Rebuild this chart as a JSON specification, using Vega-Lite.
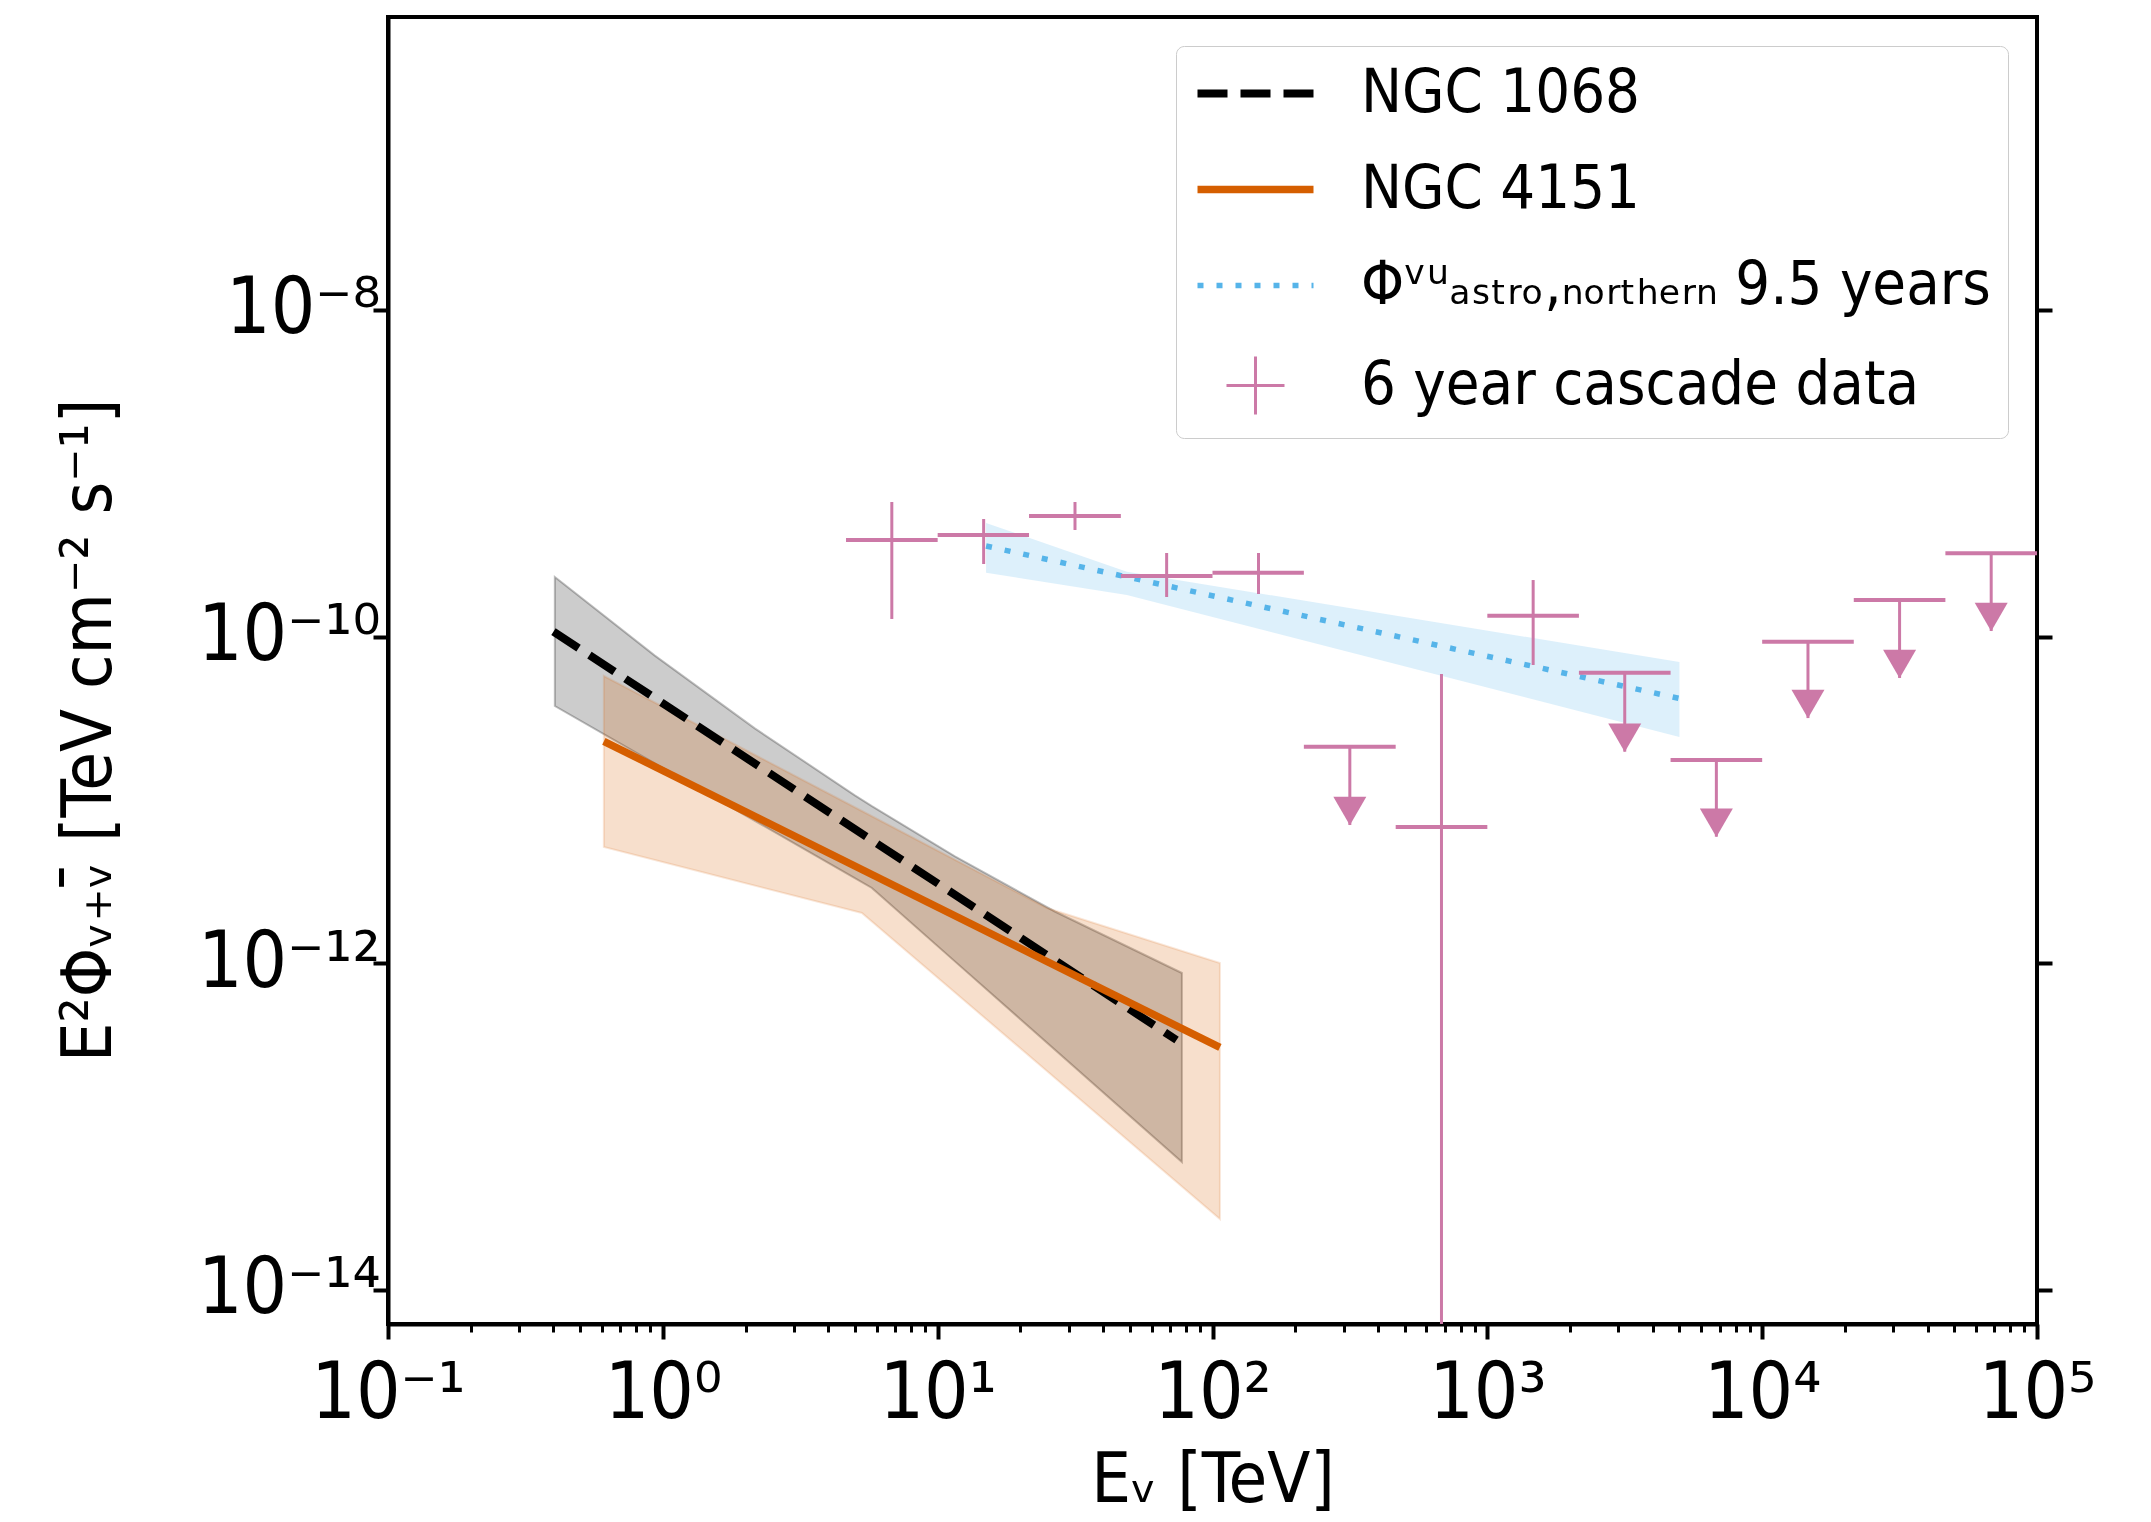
{
  "$schema": "https://vega.github.io/schema/vega-lite/v6.json",
  "width": 1649,
  "height": 1307,
  "autosize": {"type": "none"},
  "padding": {"left": 388, "top": 17, "right": 114, "bottom": 198},
  "background": "white",
  "config": {
    "font": "DejaVu Sans Condensed, DejaVu Sans",
    "view": {"stroke": "black", "strokeWidth": 4},
    "axis": {
      "domainColor": "black", "domainWidth": 4, "tickColor": "black", "tickWidth": 4,
      "labelFont": "DejaVu Sans Condensed, DejaVu Sans", "titleFont": "DejaVu Sans Condensed, DejaVu Sans",
      "labelColor": "black", "titleColor": "black", "grid": false, "titleFontWeight": "normal",
      "labelFontSize": 78, "titleFontSize": 70, "labelOverlap": false, "labelFlush": false, "labelLimit": 500, "titleLimit": 2000
    }
  },
  "datasets": {
    "cascade": [
      {"series": "6 year cascade data", "E": 6.81, "Elo": 4.64, "Ehi": 10.0, "F": 3.905e-10, "Flo": 1.282e-10, "Fhi": 6.673e-10, "limit": false},
      {"series": "6 year cascade data", "E": 14.7, "Elo": 10.0, "Ehi": 21.5, "F": 4.19e-10, "Flo": 2.783e-10, "Fhi": 5.25e-10, "limit": false},
      {"series": "6 year cascade data", "E": 31.6, "Elo": 21.5, "Ehi": 46.4, "F": 5.475e-10, "Flo": 4.496e-10, "Fhi": 6.673e-10, "limit": false},
      {"series": "6 year cascade data", "E": 68.1, "Elo": 46.4, "Ehi": 100, "F": 2.35e-10, "Flo": 1.748e-10, "Fhi": 3.25e-10, "limit": false},
      {"series": "6 year cascade data", "E": 147, "Elo": 100, "Ehi": 215, "F": 2.462e-10, "Flo": 1.823e-10, "Fhi": 3.25e-10, "limit": false},
      {"series": "6 year cascade data", "E": 316, "Elo": 215, "Ehi": 464, "F": 2.118e-11, "Flo": 7.02e-12, "Fhi": 2.118e-11, "limit": true},
      {"series": "6 year cascade data", "E": 681, "Elo": 464, "Ehi": 1000, "F": 6.83e-12, "Flo": 1e-16, "Fhi": 5.9e-11, "limit": false},
      {"series": "6 year cascade data", "E": 1468, "Elo": 1000, "Ehi": 2154, "F": 1.343e-10, "Flo": 6.7e-11, "Fhi": 2.22e-10, "limit": false},
      {"series": "6 year cascade data", "E": 3162, "Elo": 2154, "Ehi": 4642, "F": 6.01e-11, "Flo": 1.973e-11, "Fhi": 6.01e-11, "limit": true},
      {"series": "6 year cascade data", "E": 6813, "Elo": 4642, "Ehi": 10000, "F": 1.755e-11, "Flo": 5.95e-12, "Fhi": 1.755e-11, "limit": true},
      {"series": "6 year cascade data", "E": 14678, "Elo": 10000, "Ehi": 21544, "F": 9.31e-11, "Flo": 3.17e-11, "Fhi": 9.31e-11, "limit": true},
      {"series": "6 year cascade data", "E": 31623, "Elo": 21544, "Ehi": 46416, "F": 1.675e-10, "Flo": 5.58e-11, "Fhi": 1.675e-10, "limit": true},
      {"series": "6 year cascade data", "E": 68129, "Elo": 46416, "Ehi": 100000, "F": 3.237e-10, "Flo": 1.082e-10, "Fhi": 3.237e-10, "limit": true}
    ],
    "astroBand": [
      {"E": 15, "hi": 4.962e-10, "lo": 2.462e-10},
      {"E": 48.8, "hi": 2.496e-10, "lo": 1.798e-10},
      {"E": 5000, "hi": 6.99e-11, "lo": 2.428e-11}
    ],
    "ngc1068Band": [
      {"E": 0.4046, "hi": 2.317e-10, "lo": 3.758e-11},
      {"E": 0.9352, "hi": 7.65e-11, "lo": 1.673e-11},
      {"E": 2.161, "hi": 2.74e-11, "lo": 7.45e-12},
      {"E": 4.996, "hi": 1.067e-11, "lo": 3.316e-12},
      {"E": 5.762, "hi": 9.16e-12, "lo": 2.887e-12},
      {"E": 11.55, "hi": 4.514e-12, "lo": 1.026e-12},
      {"E": 26.7, "hi": 2.073e-12, "lo": 2.949e-13},
      {"E": 77.38, "hi": 8.71e-13, "lo": 6.06e-14}
    ],
    "ngc4151Band": [
      {"E": 0.61, "hi": 5.737e-11, "lo": 5.147e-12},
      {"E": 1.363, "hi": 2.835e-11, "lo": 3.639e-12},
      {"E": 5.299, "hi": 8.55e-12, "lo": 2.03e-12},
      {"E": 24.97, "hi": 2.178e-12, "lo": 2.187e-13},
      {"E": 106.4, "hi": 1.003e-12, "lo": 2.714e-14}
    ],
    "lines": [
      {"series": "NGC 1068", "E": 0.40, "F": 1.073e-10},
      {"series": "NGC 1068", "E": 74.0, "F": 3.386e-13},
      {"series": "NGC 4151", "E": 0.61, "F": 2.285e-11},
      {"series": "NGC 4151", "E": 106.4, "F": 3.047e-13},
      {"series": "Φᵛᵘₐₛₜᵣₒ,ₙₒᵣₜₕₑᵣₙ 9.5 years", "E": 15, "F": 3.588e-10},
      {"series": "Φᵛᵘₐₛₜᵣₒ,ₙₒᵣₜₕₑᵣₙ 9.5 years", "E": 5000, "F": 4.177e-11}
    ]
  },
  "resolve": {"axis": {"x": "independent", "y": "independent"}},
  "layer": [
    {
      "data": {"name": "astroBand"},
      "mark": {"type": "area", "color": "#56b4e9", "opacity": 0.2},
      "encoding": {
        "x": {"field": "E", "type": "quantitative", "scale": {"type": "log", "domain": [0.1, 100000], "nice": false},
          "axis": {"orient": "bottom", "values": [0.1, 1, 10, 100, 1000, 10000, 100000],
            "labelExpr": "datum.value < 0.5 ? '10⁻¹' : datum.value < 5 ? '10⁰' : datum.value < 50 ? '10¹' : datum.value < 500 ? '10²' : datum.value < 5000 ? '10³' : datum.value < 50000 ? '10⁴' : '10⁵'",
            "tickSize": 15, "labelPadding": 78, "labelBaseline": "alphabetic",
            "title": "Eᵥ [TeV]", "titleY": 177, "titleBaseline": "alphabetic"}},
        "y": {"field": "hi", "type": "quantitative", "scale": {"type": "log", "domain": [6.174e-15, 6.225e-7], "nice": false},
          "axis": {"orient": "left", "values": [1e-8, 1e-10, 1e-12, 1e-14],
            "labelExpr": "datum.value > 1e-9 ? '10⁻⁸' : datum.value > 1e-11 ? '10⁻¹⁰' : datum.value > 1e-13 ? '10⁻¹²' : '10⁻¹⁴'",
            "tickSize": 15, "labelPadding": -7,
            "title": "E²Φᵥ₊ᵥ̄ [TeV cm⁻² s⁻¹]", "titleX": -278, "titleY": 713, "titleBaseline": "alphabetic"}},
        "y2": {"field": "lo"}
      }
    },
    {
      "data": {"name": "ngc1068Band"},
      "mark": {"type": "area", "fill": "black", "fillOpacity": 0.2, "stroke": "black", "strokeOpacity": 0.25, "strokeWidth": 2},
      "encoding": {
        "x": {"field": "E", "type": "quantitative", "scale": {"type": "log", "domain": [0.1, 100000], "nice": false},
          "axis": {"orient": "bottom", "values": [0.2,0.3,0.4,0.5,0.6,0.7,0.8,0.9,2,3,4,5,6,7,8,9,20,30,40,50,60,70,80,90,200,300,400,500,600,700,800,900,2000,3000,4000,5000,6000,7000,8000,9000,20000,30000,40000,50000,60000,70000,80000,90000],
            "labels": false, "domain": false, "tickSize": 8, "tickWidth": 3, "title": null}},
        "y": {"field": "hi", "type": "quantitative", "scale": {"type": "log", "domain": [6.174e-15, 6.225e-7], "nice": false},
          "axis": {"orient": "right", "values": [1e-8, 1e-10, 1e-12, 1e-14], "labels": false, "domain": false, "tickSize": 15, "title": null}},
        "y2": {"field": "lo"}
      }
    },
    {
      "data": {"name": "ngc4151Band"},
      "mark": {"type": "area", "fill": "#d55e00", "fillOpacity": 0.2, "stroke": "#d55e00", "strokeOpacity": 0.15, "strokeWidth": 2},
      "encoding": {
        "x": {"field": "E", "type": "quantitative", "scale": {"type": "log", "domain": [0.1, 100000], "nice": false}, "axis": null},
        "y": {"field": "hi", "type": "quantitative", "scale": {"type": "log", "domain": [6.174e-15, 6.225e-7], "nice": false}, "axis": null},
        "y2": {"field": "lo"}
      }
    },
    {
      "data": {"name": "lines"},
      "transform": [{"filter": "datum.series === 'NGC 1068'"}],
      "mark": {"type": "line", "strokeWidth": 8, "strokeDash": [30, 13], "strokeCap": "butt"},
      "encoding": {
        "x": {"field": "E", "type": "quantitative", "scale": {"type": "log", "domain": [0.1, 100000], "nice": false}, "axis": null},
        "y": {"field": "F", "type": "quantitative", "scale": {"type": "log", "domain": [6.174e-15, 6.225e-7], "nice": false}, "axis": null},
        "color": {"field": "series", "type": "nominal",
          "scale": {"domain": ["NGC 1068", "NGC 4151", "Φᵛᵘₐₛₜᵣₒ,ₙₒᵣₜₕₑᵣₙ 9.5 years", "6 year cascade data"], "range": ["black", "#d55e00", "#56b4e9", "#cc79a7"]},
          "legend": {
            "title": null, "orient": "top-right", "offset": 29, "padding": 17,
            "fillColor": "white", "strokeColor": "#cccccc", "cornerRadius": 8,
            "labelFont": "DejaVu Sans Condensed, DejaVu Sans", "labelFontSize": 61, "labelColor": "black",
            "labelOffset": 75, "symbolOffset": 32, "symbolSize": 3364, "rowPadding": 34, "labelLimit": 1200,
            "symbolType": "stroke", "symbolStrokeWidth": 6,
            "encode": {"symbols": {"update": {
              "shape": {"signal": "datum.value === '6 year cascade data' ? 'M-1,0L1,0M0,-1L0,1' : 'M-2,0L2,0'"},
              "strokeDash": {"signal": "datum.value === 'NGC 1068' ? [30,13] : (datum.value === 'NGC 4151' || datum.value === '6 year cascade data') ? [1,0] : [6,13]"},
              "strokeWidth": {"signal": "datum.value === 'NGC 1068' ? 8 : datum.value === 'NGC 4151' ? 7.5 : datum.value === '6 year cascade data' ? 3 : 5.5"},
              "fill": {"value": "transparent"}
            }}}
          }}
      }
    },
    {
      "data": {"name": "lines"},
      "transform": [{"filter": "datum.series === 'NGC 4151'"}],
      "mark": {"type": "line", "strokeWidth": 7.5, "strokeCap": "butt"},
      "encoding": {
        "x": {"field": "E", "type": "quantitative", "scale": {"type": "log", "domain": [0.1, 100000], "nice": false}, "axis": null},
        "y": {"field": "F", "type": "quantitative", "scale": {"type": "log", "domain": [6.174e-15, 6.225e-7], "nice": false}, "axis": null},
        "color": {"field": "series", "type": "nominal"}
      }
    },
    {
      "data": {"name": "lines"},
      "transform": [{"filter": "datum.series !== 'NGC 1068' && datum.series !== 'NGC 4151'"}],
      "mark": {"type": "line", "strokeWidth": 5.5, "strokeDash": [6, 13], "strokeCap": "butt"},
      "encoding": {
        "x": {"field": "E", "type": "quantitative", "scale": {"type": "log", "domain": [0.1, 100000], "nice": false}, "axis": null},
        "y": {"field": "F", "type": "quantitative", "scale": {"type": "log", "domain": [6.174e-15, 6.225e-7], "nice": false}, "axis": null},
        "color": {"field": "series", "type": "nominal"}
      }
    },
    {
      "data": {"name": "cascade"},
      "mark": {"type": "rule", "strokeWidth": 4, "clip": true},
      "encoding": {
        "x": {"field": "Elo", "type": "quantitative", "scale": {"type": "log", "domain": [0.1, 100000], "nice": false}, "axis": null},
        "x2": {"field": "Ehi"},
        "y": {"field": "F", "type": "quantitative", "scale": {"type": "log", "domain": [6.174e-15, 6.225e-7], "nice": false}, "axis": null},
        "color": {"field": "series", "type": "nominal"}
      }
    },
    {
      "data": {"name": "cascade"},
      "mark": {"type": "rule", "strokeWidth": 3, "clip": true},
      "encoding": {
        "x": {"field": "E", "type": "quantitative", "scale": {"type": "log", "domain": [0.1, 100000], "nice": false}, "axis": null},
        "y": {"field": "Fhi", "type": "quantitative", "scale": {"type": "log", "domain": [6.174e-15, 6.225e-7], "nice": false}, "axis": null},
        "y2": {"field": "Flo"},
        "color": {"field": "series", "type": "nominal"}
      }
    },
    {
      "data": {"name": "cascade"},
      "transform": [{"filter": "datum.limit"}],
      "mark": {"type": "point", "shape": "triangle-down", "filled": true, "size": 1089, "color": "#cc79a7", "opacity": 1, "yOffset": -14},
      "encoding": {
        "x": {"field": "E", "type": "quantitative", "scale": {"type": "log", "domain": [0.1, 100000], "nice": false}, "axis": null},
        "y": {"field": "Flo", "type": "quantitative", "scale": {"type": "log", "domain": [6.174e-15, 6.225e-7], "nice": false}, "axis": null}
      }
    }
  ]
}
